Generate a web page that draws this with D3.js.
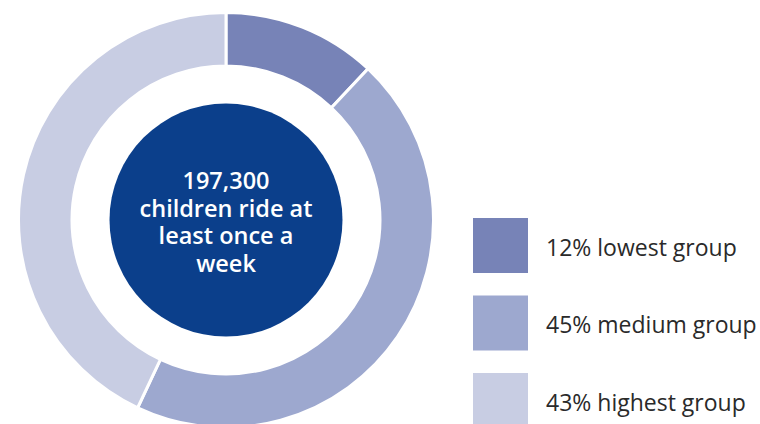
<!DOCTYPE html>
<html>
<head>
<meta charset="utf-8">
<script src="https://cdn.jsdelivr.net/npm/d3@7"></script>
<style>
  html, body { margin: 0; padding: 0; background: #fff; }
  svg { display: block; }
</style>
</head>
<body>
<svg id="chart" width="760" height="424"></svg>
<script>
// Data
const groups = ["lowest group", "medium group", "highest group"];
const shares = [12, 45, 43];
const colors = ["#7783b7", "#9da8cf", "#c8cde3"];
const centerLines = ["197,300", "children ride at", "least once a", "week"];

const svg = d3.select("#chart");
const cx = 226, cy = 220;
const outerR = 207.5, innerR = 154, coreR = 116.5;

const pie = d3.pie().sort(null).value(d => d.value);
const arcs = pie(shares.map((v, i) => ({ value: v, name: groups[i], color: colors[i] })));
const arc = d3.arc().innerRadius(innerR).outerRadius(outerR);

const g = svg.append("g").attr("transform", `translate(${cx},${cy})`);
g.selectAll("path.slice")
  .data(arcs)
  .join("path")
  .attr("class", "slice")
  .attr("d", arc)
  .attr("fill", d => d.data.color)
  .attr("stroke", "#fff")
  .attr("stroke-width", 3)
  .attr("stroke-linejoin", "miter");

g.append("circle").attr("r", coreR).attr("fill", "#0b3f8b");

const lineH = 27.7;
const centerText = g.append("text")
  .attr("text-anchor", "middle")
  .attr("fill", "#fff")
  .attr("font-family", "'Open Sans', sans-serif")
  .attr("font-weight", 600)
  .attr("font-size", 23.5);
centerLines.forEach((t, i) => {
  centerText.append("tspan")
    .attr("x", 0)
    .attr("y", (i - (centerLines.length - 1) / 2) * lineH + 10.5)
    .text(t);
});

// Legend
const legendY = d3.scalePoint().domain(groups).range([218, 373]);
const legend = svg.append("g");
const items = legend.selectAll("g.item").data(groups).join("g")
  .attr("class", "item")
  .attr("transform", d => `translate(473,${legendY(d)})`);
items.append("rect")
  .attr("width", 55).attr("height", 55)
  .attr("fill", (d, i) => colors[i]);
items.append("text")
  .attr("x", 73).attr("y", 37.7)
  .attr("fill", "#2a2a2a")
  .attr("font-family", "'Open Sans', sans-serif")
  .attr("font-weight", 500)
  .attr("font-size", 23)
  .text((d, i) => `${shares[i]}% ${d}`);
</script>
</body>
</html>
